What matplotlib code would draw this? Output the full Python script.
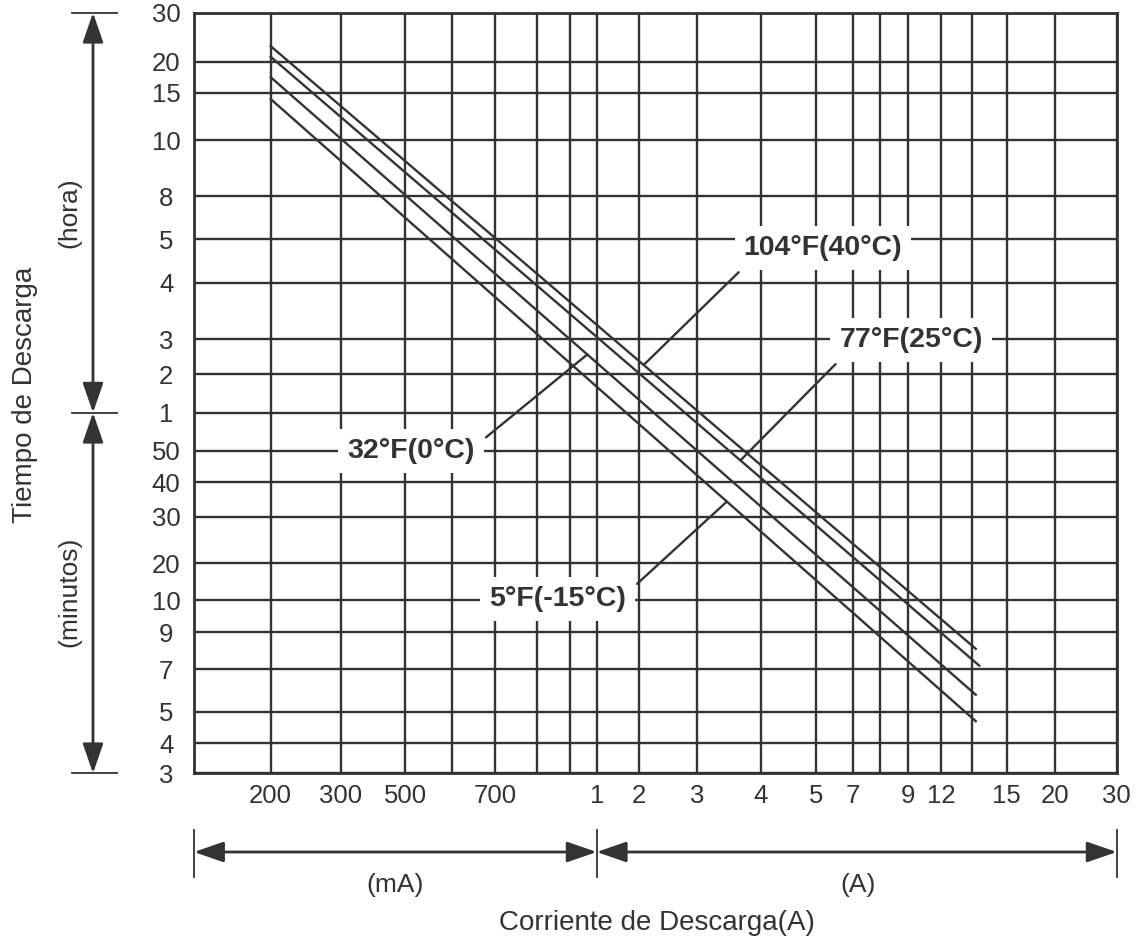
import numpy as np
import matplotlib
matplotlib.use('Agg')
import matplotlib.pyplot as plt
from matplotlib import transforms

# grid lines of the current axis, in A (left edge .. right edge)
x_grid = [0.1, 0.2, 0.3, 0.5, 0.6, 0.7, 0.8, 0.9, 1, 2, 3, 4, 5, 7, 8, 9, 12, 14, 15, 20, 30]
x_labels = ['', '200', '300', '500', '', '700', '', '', '1', '2', '3', '4', '5', '7', '', '9', '12', '', '15', '20', '30']

# grid lines of the time axis, in minutes (bottom .. top)
y_grid = [3, 4, 5, 7, 9, 10, 20, 30, 40, 50, 60, 120, 180, 240, 300, 480, 600, 900, 1200, 1800]
y_labels = ['3', '4', '5', '7', '9', '10', '20', '30', '40', '50',
            '1', '2', '3', '4', '5', '8', '10', '15', '20', '30']

# discharge curves, one per temperature
temps = ['104°F(40°C)', '77°F(25°C)', '32°F(0°C)', '5°F(-15°C)']
curr_start = [0.2, 0.2, 0.2, 0.2]
curr_end = [14.1, 14.2, 14.1, 14.1]
time_start = [1390, 1260, 1050, 860]
time_end = [8.1, 7.2, 5.8, 4.7]

# the printed chart spaces its grid by hand, so map values onto that spacing
x_pos = [194, 270.7, 341, 405.3, 452.3, 495.3, 537, 570, 596.7, 639.3, 697.3, 761,
         815.7, 853.3, 880, 907.7, 941, 972.3, 1006.7, 1055, 1116.7]
y_pos = [773.3, 743.3, 711.7, 669.3, 632, 600, 563.3, 516.7, 482.3, 450.7, 412.7,
         374.3, 339.3, 282.7, 239, 196, 140.3, 92.7, 61.7, 12.7]

ink = '#333333'
plt.rcParams['font.family'] = ['Liberation Sans', 'DejaVu Sans']

W, H = 1138, 941
fig = plt.figure(figsize=(W / 100, H / 100), dpi=100)
ax = fig.add_axes([194 / W, 1 - 773.3 / H, (1116.7 - 194) / W, (773.3 - 12.7) / H])

xp = np.array(x_pos)
yp = -np.array(y_pos)


def fx(v):
    return np.interp(v, x_grid, xp)


def fx_inv(p):
    return np.interp(p, xp, x_grid)


def fy(v):
    return np.interp(v, y_grid, yp)


def fy_inv(p):
    return np.interp(p, yp, y_grid)


ax.set_xscale('function', functions=(fx, fx_inv))
ax.set_yscale('function', functions=(fy, fy_inv))
ax.set_xlim(x_grid[0], x_grid[-1])
ax.set_ylim(y_grid[0], y_grid[-1])
ax.set_xticks(x_grid)
ax.set_xticklabels(x_labels)
ax.set_yticks(y_grid)
ax.set_yticklabels(y_labels)
ax.minorticks_off()
ax.tick_params(axis='x', length=0, pad=8, labelsize=18.5, labelcolor=ink)
ax.tick_params(axis='y', length=0, pad=20, labelsize=18.5, labelcolor=ink)
for lab in ax.get_yticklabels():
    lab.set_horizontalalignment('center')
ax.grid(True, color=ink, lw=1.7)
for s in ax.spines.values():
    s.set_color(ink)
    s.set_linewidth(2)

for i in range(len(temps)):
    ax.plot([curr_start[i], curr_end[i]], [time_start[i], time_end[i]], color=ink, lw=1.7, zorder=2)


def on_curve(i, frac):
    p0 = ax.transData.transform((curr_start[i], time_start[i]))
    p1 = ax.transData.transform((curr_end[i], time_end[i]))
    return ax.transAxes.inverted().transform(p0 + frac * (p1 - p0))


label_xy = [(0.6817, 0.6904), (0.7771, 0.5697), (0.2352, 0.4237), (0.3940, 0.2292)]
leader_frac = [0.529, 0.663, 0.449, 0.647]
leader_rel = [(0.04, 0), (0.05, 0), (1, 0.67), (1, 0.69)]
for i in range(len(temps)):
    ax.annotate(temps[i], xy=on_curve(i, leader_frac[i]), xycoords='axes fraction',
                xytext=label_xy[i], textcoords='axes fraction', ha='center', va='center',
                fontsize=20.5, fontweight='bold', color=ink, zorder=5,
                bbox=dict(boxstyle='square,pad=0.32', fc='white', ec='none'),
                arrowprops=dict(arrowstyle='-', color=ink, lw=1.7, shrinkA=2, shrinkB=0,
                                relpos=leader_rel[i]))

# dimension arrows beside the axes
arrow = dict(arrowstyle='<|-|>,head_length=1.3,head_width=0.45', mutation_scale=14,
             color=ink, lw=2, shrinkA=0, shrinkB=0)
ty = transforms.blended_transform_factory(ax.transAxes, ax.transData)
xa = (93 - 194) / 922.7
for a, b in [(1800, 60), (60, 3)]:
    ax.annotate('', xy=(xa, a), xycoords=ty, xytext=(xa, b), textcoords=ty,
                arrowprops=arrow, annotation_clip=False)
for v in [1800, 60, 3]:
    ax.plot([(72 - 194) / 922.7, (117 - 194) / 922.7], [v, v], transform=ty,
            color=ink, lw=1.3, clip_on=False)

tx = transforms.blended_transform_factory(ax.transData, ax.transAxes)
ya = (773.3 - 852) / 760.6
for a, b in [(0.1, 1), (1, 30)]:
    ax.annotate('', xy=(a, ya), xycoords=tx, xytext=(b, ya), textcoords=tx,
                arrowprops=arrow, annotation_clip=False)
for v in [0.1, 1, 30]:
    ax.plot([v, v], [(773.3 - 830) / 760.6, (773.3 - 877) / 760.6], transform=tx,
            color=ink, lw=1.3, clip_on=False)

fig.text(25 / W, 1 - 395 / H, 'Tiempo de Descarga', rotation=90, ha='center', va='center',
         fontsize=20, color=ink)
fig.text(69 / W, 1 - 213 / H, '(hora)', rotation=90, ha='center', va='center',
         fontsize=19, color=ink)
fig.text(69 / W, 1 - 592 / H, '(minutos)', rotation=90, ha='center', va='center',
         fontsize=19, color=ink)
fig.text(395 / W, 1 - 885 / H, '(mA)', ha='center', va='center', fontsize=19, color=ink)
fig.text(858 / W, 1 - 885 / H, '(A)', ha='center', va='center', fontsize=19, color=ink)
fig.text(657 / W, 1 - 923 / H, 'Corriente de Descarga(A)', ha='center', va='center',
         fontsize=20, color=ink)

fig.savefig('out.png', dpi=100)
